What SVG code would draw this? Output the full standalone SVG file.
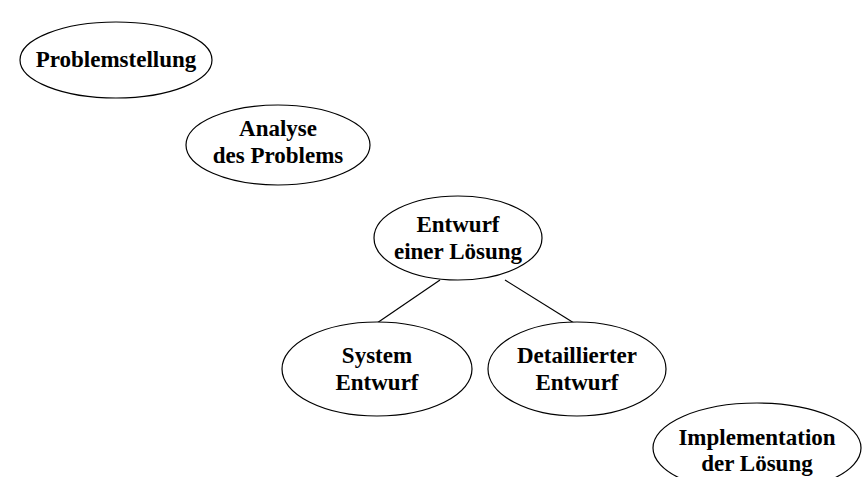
<svg xmlns="http://www.w3.org/2000/svg" width="865" height="477" viewBox="0 0 865 477">
<style>
.n ellipse{fill:#fff;stroke:#000;stroke-width:1.2}
.n text{font-family:"Liberation Serif","DejaVu Serif",serif;font-weight:bold;font-size:23px;text-anchor:middle;fill:#000}
.c line{stroke:#000;stroke-width:1.2}
</style>
<rect width="865" height="477" fill="#fff"/>
<g class="c" id="connectors">
<line x1="440" y1="280" x2="377" y2="323"/>
<line x1="505" y1="280" x2="574" y2="323"/>
</g>
<g class="n" id="problemstellung">
<ellipse cx="116" cy="60" rx="96" ry="38"/>
<text x="116" y="67">Problemstellung</text>
</g>
<g class="n" id="analyse">
<ellipse cx="278" cy="145" rx="92" ry="40"/>
<text x="278" y="136">Analyse</text>
<text x="278" y="163">des Problems</text>
</g>
<g class="n" id="entwurf">
<ellipse cx="458" cy="238" rx="84" ry="42"/>
<text x="458" y="232">Entwurf</text>
<text x="458" y="259">einer Lösung</text>
</g>
<g class="n" id="system">
<ellipse cx="377" cy="369" rx="95" ry="47"/>
<text x="377" y="363">System</text>
<text x="377" y="390">Entwurf</text>
</g>
<g class="n" id="detailliert">
<ellipse cx="577" cy="369" rx="89" ry="47"/>
<text x="577" y="363">Detaillierter</text>
<text x="577" y="390">Entwurf</text>
</g>
<g class="n" id="implementation">
<ellipse cx="757" cy="448" rx="104" ry="45"/>
<text x="757" y="445">Implementation</text>
<text x="757" y="471">der Lösung</text>
</g>
</svg>
